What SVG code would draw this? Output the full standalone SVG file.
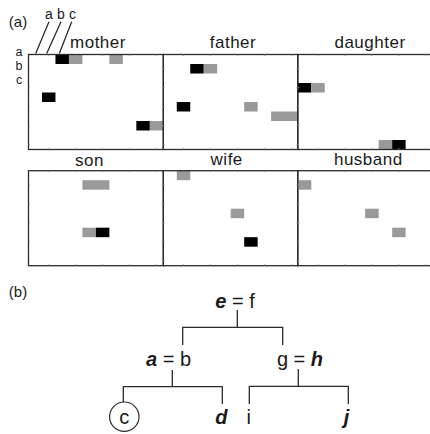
<svg xmlns="http://www.w3.org/2000/svg" width="430" height="434" viewBox="0 0 430 434">
<style>
text{font-family:"Liberation Sans",Arial,sans-serif;fill:#1a1a1a}
.lbl{font-size:17px;text-anchor:middle;letter-spacing:0.5px}
.sm{font-size:14px;text-anchor:middle}
.sl{font-size:12.5px;text-anchor:middle}
.tr{font-size:20px;text-anchor:middle}
.bi{font-weight:bold;font-style:italic}
.k{fill:#000}
.g{fill:#9a9a9a}
.box{fill:none;stroke:#2b2b2b;stroke-width:1.3}
.tick{fill:none;stroke:#8a8a8a;stroke-width:0.8}
.ln{fill:none;stroke:#2b2b2b;stroke-width:1.3}
</style>
<rect width="430" height="434" fill="#fff"/>
<text x="18" y="27" style="font-size:15px" text-anchor="middle">(a)</text>
<text x="49" y="18.5" class="sm">a</text>
<text x="61" y="18.5" class="sm">b</text>
<text x="72.5" y="18.5" class="sm">c</text>
<text x="19" y="56" class="sl">a</text>
<text x="19" y="70" class="sl">b</text>
<text x="19" y="84" class="sl">c</text>

<g id="connectors">
<path class="ln" d="M49 21.7L35.7 53.5M61 21.7L46.7 53.5M71.7 21.7L59.3 53.5"/>
<path class="ln" d="M237.3 310V327.3M182.7 345V327.3H282.7V345"/>
<path class="ln" d="M172.3 370V386.7M123.3 402V386.7H222.3V404"/>
<path class="ln" d="M298.3 369V386.3M249.3 404V386.3H348.3V404"/>
</g>

<g id="mother">
<text x="98" y="48.3" class="lbl">mother</text>
<rect class="k" x="55.46" y="54.5" width="13.48" height="9.5"/>
<rect class="g" x="68.94" y="54.5" width="13.48" height="9.5"/>
<rect class="g" x="109.38" y="54.5" width="13.48" height="9.5"/>
<rect class="k" x="41.98" y="92.5" width="13.48" height="9.5"/>
<rect class="k" x="136.34" y="121" width="13.48" height="9.5"/>
<rect class="g" x="149.82" y="121" width="13.48" height="9.5"/>
<rect class="box" x="28.5" y="54.5" width="134.8" height="95"/>
</g>
<g id="father">
<text x="233" y="48" class="lbl">father</text>
<rect class="k" x="190.26" y="64" width="13.48" height="9.5"/>
<rect class="g" x="203.74" y="64" width="13.48" height="9.5"/>
<rect class="k" x="176.78" y="102" width="13.48" height="9.5"/>
<rect class="g" x="244.18" y="102" width="13.48" height="9.5"/>
<rect class="g" x="271.14" y="111.5" width="26.96" height="9.5"/>
<rect class="box" x="163.3" y="54.5" width="134.5" height="95"/>
</g>
<g id="daughter">
<text x="370" y="48" class="lbl">daughter</text>
<rect class="k" x="297.8" y="83" width="13.48" height="9.5"/>
<rect class="g" x="311.28" y="83" width="13.48" height="9.5"/>
<rect class="g" x="378.68" y="140" width="13.48" height="9.5"/>
<rect class="k" x="392.16" y="140" width="13.48" height="9.5"/>
<rect class="box" x="297.8" y="54.5" width="134.8" height="95"/>
</g>
<g id="son">
<text x="89.5" y="165.5" class="lbl">son</text>
<rect class="g" x="82.42" y="180.2" width="26.96" height="9.5"/>
<rect class="g" x="82.42" y="227.7" width="13.48" height="9.5"/>
<rect class="k" x="95.9" y="227.7" width="13.48" height="9.5"/>
<rect class="box" x="28.5" y="170.7" width="134.8" height="95"/>
</g>
<g id="wife">
<text x="226.7" y="165" class="lbl">wife</text>
<rect class="g" x="176.78" y="170.7" width="13.48" height="9.5"/>
<rect class="g" x="230.7" y="208.7" width="13.48" height="9.5"/>
<rect class="k" x="244.18" y="237.2" width="13.48" height="9.5"/>
<rect class="box" x="163.3" y="170.7" width="134.5" height="95"/>
</g>
<g id="husband">
<text x="368.3" y="165" class="lbl">husband</text>
<rect class="g" x="297.8" y="180.2" width="13.48" height="9.5"/>
<rect class="g" x="365.2" y="208.7" width="13.48" height="9.5"/>
<rect class="g" x="392.16" y="227.7" width="13.48" height="9.5"/>
<rect class="box" x="297.8" y="170.7" width="134.8" height="95"/>
</g>

<g id="ticks">
<path class="tick" d="M28.5 68.75h1.5M28.5 87.75h1.5M28.5 106.75h1.5M28.5 125.75h1.5M28.5 144.75h1.5
M161.8 68.75h3M161.8 87.75h3M161.8 106.75h3M161.8 125.75h3M161.8 144.75h3
M296.3 68.75h3M296.3 87.75h3M296.3 106.75h3M296.3 125.75h3M296.3 144.75h3
M28.5 184.95h1.5M28.5 203.95h1.5M28.5 222.95h1.5M28.5 241.95h1.5M28.5 260.95h1.5
M161.8 184.95h3M161.8 203.95h3M161.8 222.95h3M161.8 241.95h3M161.8 260.95h3
M296.3 184.95h3M296.3 203.95h3M296.3 222.95h3M296.3 241.95h3M296.3 260.95h3
M48.72 54.5v1.5M75.68 54.5v1.5M102.64 54.5v1.5M129.6 54.5v1.5M156.56 54.5v1.5
M183.52 54.5v1.5M210.48 54.5v1.5M237.44 54.5v1.5M264.4 54.5v1.5M291.36 54.5v1.5
M318.02 54.5v1.5M344.98 54.5v1.5M371.94 54.5v1.5M398.9 54.5v1.5M425.86 54.5v1.5
M48.72 149.5v-1.5M75.68 149.5v-1.5M102.64 149.5v-1.5M129.6 149.5v-1.5M156.56 149.5v-1.5
M183.52 149.5v-1.5M210.48 149.5v-1.5M237.44 149.5v-1.5M264.4 149.5v-1.5M291.36 149.5v-1.5
M318.02 149.5v-1.5M344.98 149.5v-1.5M371.94 149.5v-1.5M398.9 149.5v-1.5M425.86 149.5v-1.5
M48.72 170.7v1.5M75.68 170.7v1.5M102.64 170.7v1.5M129.6 170.7v1.5M156.56 170.7v1.5
M183.52 170.7v1.5M210.48 170.7v1.5M237.44 170.7v1.5M264.4 170.7v1.5M291.36 170.7v1.5
M318.02 170.7v1.5M344.98 170.7v1.5M371.94 170.7v1.5M398.9 170.7v1.5M425.86 170.7v1.5
M48.72 265.7v-1.5M75.68 265.7v-1.5M102.64 265.7v-1.5M129.6 265.7v-1.5M156.56 265.7v-1.5
M183.52 265.7v-1.5M210.48 265.7v-1.5M237.44 265.7v-1.5M264.4 265.7v-1.5M291.36 265.7v-1.5
M318.02 265.7v-1.5M344.98 265.7v-1.5M371.94 265.7v-1.5M398.9 265.7v-1.5M425.86 265.7v-1.5"/>
</g>

<text x="18" y="297" style="font-size:15px" text-anchor="middle">(b)</text>
<g id="node-ef">
<text x="235" y="308.3" class="tr"><tspan class="bi">e</tspan> = f</text>
</g>
<g id="node-ab">
<text x="168.5" y="366" class="tr"><tspan class="bi">a</tspan> = b</text>
</g>
<g id="node-gh">
<text x="300" y="366" class="tr">g = <tspan class="bi">h</tspan></text>
</g>
<g id="node-c">
<circle cx="124.3" cy="416.7" r="14.7" fill="none" stroke="#2b2b2b" stroke-width="1.2"/>
<text x="124.3" y="423.5" class="tr">c</text>
</g>
<g id="node-d">
<text x="221.3" y="424" class="tr bi">d</text>
</g>
<g id="node-i">
<text x="248.7" y="424" class="tr">i</text>
</g>
<g id="node-j">
<text x="346.5" y="424" class="tr bi">j</text>
</g>
</svg>
